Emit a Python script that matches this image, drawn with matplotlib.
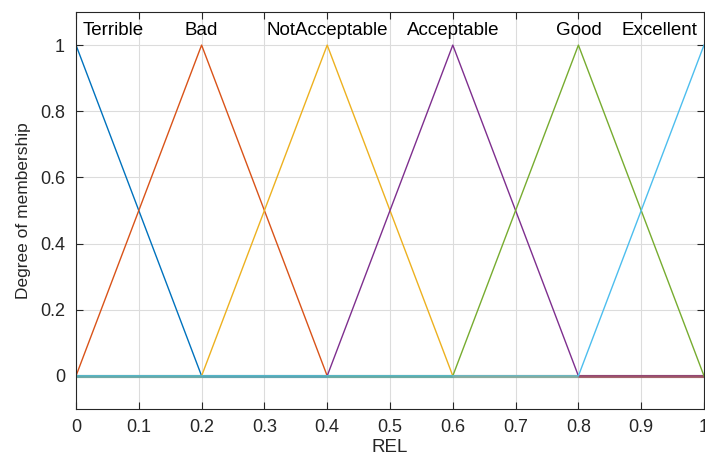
import numpy as np
import matplotlib.pyplot as plt

# membership functions on REL (triangular: a, b, c)
mf_names = ['Terrible', 'Bad', 'NotAcceptable', 'Acceptable', 'Good', 'Excellent']
mf_a = [-0.2, 0.0, 0.2, 0.4, 0.6, 0.8]
mf_b = [0.0, 0.2, 0.4, 0.6, 0.8, 1.0]
mf_c = [0.2, 0.4, 0.6, 0.8, 1.0, 1.2]
mf_colors = ['#0072BD', '#D95319', '#EDB120', '#7E2F8E', '#77AC30', '#4DBEEE']


def trimf(x, a, b, c):
    left = np.where(b > a, (x - a) / max(b - a, 1e-12), 1.0)
    right = np.where(c > b, (c - x) / max(c - b, 1e-12), 1.0)
    return np.clip(np.minimum(left, right), 0, 1)


plt.rcParams['font.family'] = ['Liberation Sans', 'DejaVu Sans']
fig = plt.figure(figsize=(7.05, 4.54), dpi=100)
ax = fig.add_axes([76 / 705, 1 - 409 / 454, 628 / 705, 397 / 454])

x = np.linspace(0, 1, 1001)
curves = [trimf(x, a, b, c) for a, b, c in zip(mf_a, mf_b, mf_c)]

# zero parts overlap and blend
for y, col in zip(curves, mf_colors):
    y0 = np.where(y == 0, 0.0, np.nan)
    ax.plot(x, y0, color=col, lw=2.2, alpha=0.5, solid_capstyle='butt')

for y, col in zip(curves, mf_colors):
    ax.plot(x, y, color=col, lw=1.0)

for name, b in zip(mf_names, mf_b):
    if b <= 0:
        ax.text(0.01, 1.043, name, ha='left', va='center', fontsize=13.5)
    elif b >= 1:
        ax.text(0.99, 1.043, name, ha='right', va='center', fontsize=13.5)
    else:
        ax.text(b, 1.043, name, ha='center', va='center', fontsize=13.5)

ax.set_xlim(0, 1)
ax.set_ylim(-0.1, 1.1)
ax.set_xticks(np.arange(0, 1.01, 0.1))
ax.set_xticklabels(['0', '0.1', '0.2', '0.3', '0.4', '0.5', '0.6', '0.7', '0.8', '0.9', '1'])
ax.set_yticks(np.arange(0, 1.01, 0.2))
ax.set_yticklabels(['0', '0.2', '0.4', '0.6', '0.8', '1'])
ax.grid(True, color='#dcdcdc', lw=0.8)
ax.set_axisbelow(True)
ax.tick_params(direction='in', top=True, right=True, length=5, width=0.8,
               colors='#262626', labelsize=13)
ax.tick_params(axis='x', pad=7)
ax.tick_params(axis='y', pad=8)
for sp in ax.spines.values():
    sp.set_color('#262626')
    sp.set_linewidth(0.8)

ax.set_xlabel('REL', fontsize=13.5, color='#262626', labelpad=2)
ax.set_ylabel('Degree of membership', fontsize=12.5, color='#262626', labelpad=6)

fig.savefig('out.png', dpi=100)
